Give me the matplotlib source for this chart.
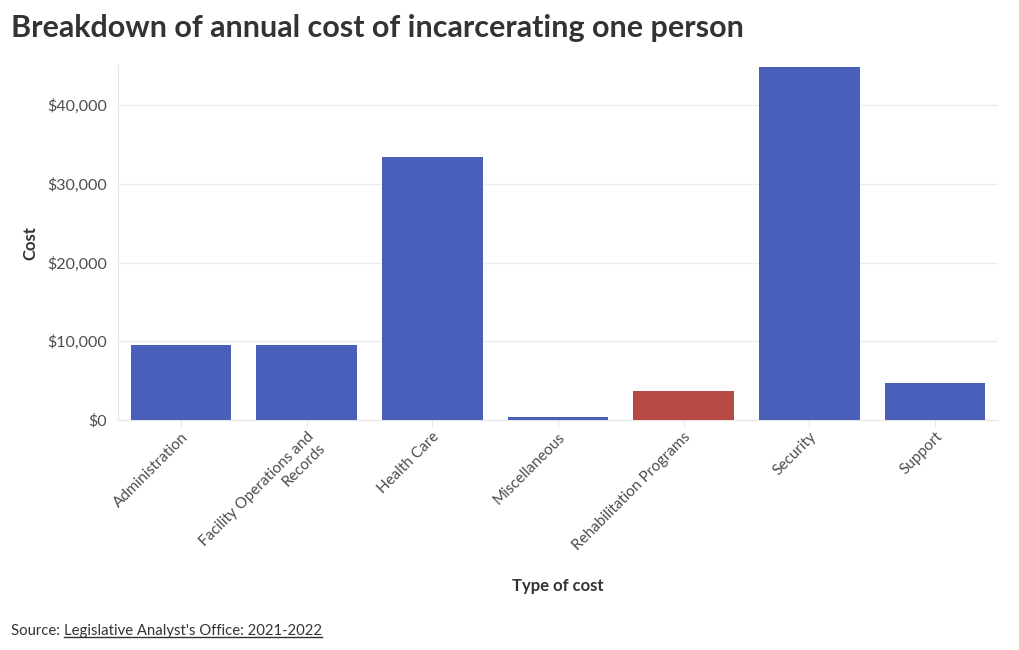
import matplotlib
matplotlib.use("Agg")
import matplotlib.pyplot as plt
from matplotlib.ticker import FuncFormatter
from matplotlib.lines import Line2D

categories = ["Administration", "Facility Operations and\nRecords", "Health Care",
              "Miscellaneous", "Rehabilitation Programs", "Security", "Support"]
costs = [9500, 9500, 33400, 380, 3700, 44800, 4700]
highlight = ["Rehabilitation Programs"]

title = "Breakdown of annual cost of incarcerating one person"
xlabel = "Type of cost"
ylabel = "Cost"
source_prefix = "Source: "
source_link = "Legislative Analyst's Office: 2021-2022"

BLUE = "#4a5fba"
RED = "#b84a46"
TEXT = "#333333"
TICK = "#4d4d4d"

plt.rcParams['font.family'] = ['Lato', 'DejaVu Sans']

fig = plt.figure(figsize=(10.2, 6.5), dpi=100)
ax = fig.add_axes([118/1020, 1-420/650, 880/1020, 355/650])

colors = [RED if c in highlight else BLUE for c in categories]
x = list(range(len(categories)))
ax.bar(x, costs, width=0.8, color=colors, zorder=3)
ax.set_xlim(-0.5, len(categories) - 0.5)
ax.set_ylim(0, 45100)
ax.set_yticks([0, 10000, 20000, 30000, 40000])
ax.yaxis.set_major_formatter(FuncFormatter(lambda v, p: f"${v:,.0f}"))
ax.grid(axis='y', color='#ececec', linewidth=1, zorder=0)
for s in ['top', 'right']:
    ax.spines[s].set_visible(False)
ax.spines['left'].set_color('#e6e6e6')
ax.spines['bottom'].set_color('#e6e6e6')
ax.tick_params(axis='y', length=0, pad=8, labelsize=11.5, labelcolor=TICK)
ax.tick_params(axis='x', length=5, color='#e6e6e6', pad=2, labelsize=11, labelcolor=TICK)
ax.set_xticks(x)
ax.set_xticklabels(categories, rotation=45, ha='right', rotation_mode='anchor',
                   multialignment='right')

fig.text(558/1020, 1-586/650, xlabel, ha='center', va='center', fontsize=12,
         fontweight='bold', color=TEXT)
fig.text(30/1020, 1-243/650, ylabel, ha='center', va='center', rotation=90, fontsize=12,
         fontweight='bold', color=TEXT)
fig.text(11/1020, 1-28/650, title, ha='left', va='center', fontsize=22,
         fontweight='bold', color=TEXT)

t1 = fig.text(11/1020, 1-631/650, source_prefix, ha='left', va='center', fontsize=10.7,
              color=TEXT)
fig.canvas.draw()
r = fig.canvas.get_renderer()
bb = t1.get_window_extent(r)
t2 = fig.text(bb.x1/1020, 1-631/650, source_link, ha='left', va='center', fontsize=10.7,
              color=TEXT)
fig.canvas.draw()
bb2 = t2.get_window_extent(r)
yline = (bb2.y0 + 1) / 650
fig.add_artist(Line2D([bb2.x0/1020, bb2.x1/1020], [yline, yline], color=TEXT,
                      linewidth=1, transform=fig.transFigure))

fig.savefig("out.png", dpi=100)
